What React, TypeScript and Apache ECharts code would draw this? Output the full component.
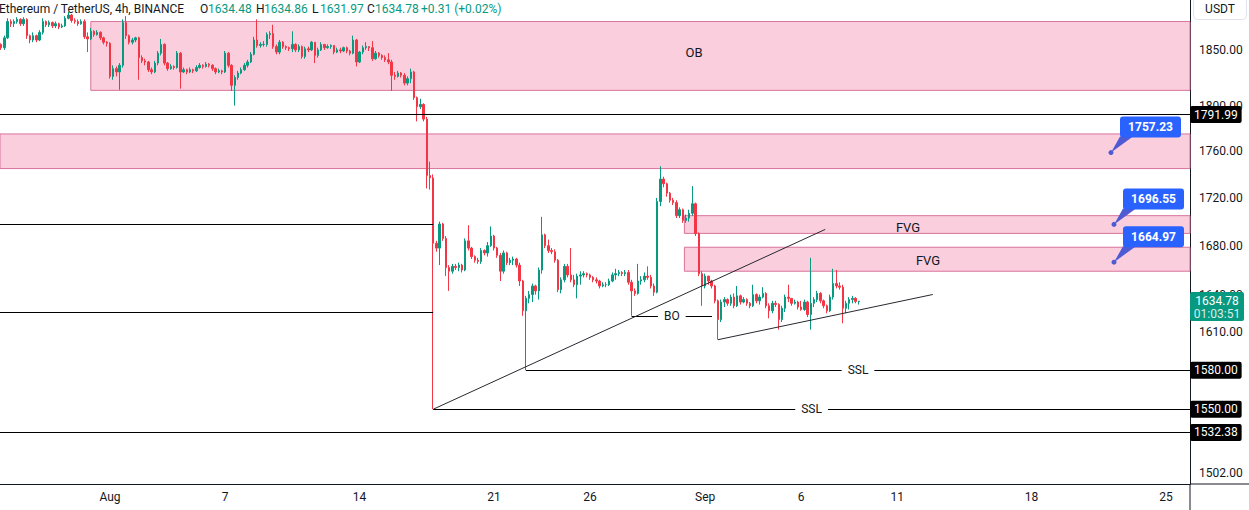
import React, { useEffect, useRef } from "react";
import * as echarts from "echarts";

const utc = (m: number, d: number, h = 0, mi = 0) => Date.UTC(2023, m - 1, d, h, mi);
const H4 = 4 * 3600 * 1000;

const symbolName = "Ethereum / TetherUS, 4h, BINANCE";
const lastBar = { open: 1634.48, high: 1634.86, low: 1631.97, close: 1634.78, change: 0.31, changePct: 0.02 };
const countdown = "01:03:51";
const quoteCurrency = "USDT";

const candleStart = utc(7, 26, 8);
const firstOpen = 1855;
// [close, high, low] per 4h candle, open = previous close
const candles4h: number[][] = [
  // Jul 26
  [1852, 1856, 1850], [1861, 1863, 1850], [1876, 1879, 1860], [1874, 1878, 1871],
  // Jul 27
  [1876, 1878, 1871], [1878, 1880, 1874], [1874, 1879, 1872], [1878, 1880, 1872], [1863, 1879, 1860], [1859, 1864, 1856],
  // Jul 28
  [1863, 1866, 1857], [1859, 1864, 1857], [1866, 1868, 1858], [1876, 1879, 1864], [1873, 1877, 1871], [1875, 1877, 1871],
  // Jul 29
  [1872, 1876, 1870], [1874, 1876, 1870], [1871, 1875, 1869], [1872, 1874, 1870], [1879, 1881, 1871], [1882, 1885, 1878],
  // Jul 30
  [1877, 1883, 1875], [1876, 1879, 1874], [1874, 1878, 1872], [1876, 1878, 1873], [1862, 1878, 1860], [1860, 1866, 1848],
  // Jul 31
  [1867, 1870, 1859], [1864, 1868, 1862], [1866, 1868, 1863], [1861, 1867, 1859], [1857, 1862, 1855], [1856, 1858, 1853],
  // Aug 1
  [1826, 1857, 1824], [1833, 1836, 1823], [1830, 1835, 1826], [1836, 1838, 1814], [1875, 1878, 1834], [1863, 1881, 1860],
  // Aug 2
  [1857, 1864, 1855], [1859, 1861, 1855], [1861, 1862, 1857], [1843, 1862, 1823], [1840, 1845, 1838], [1839, 1842, 1836],
  // Aug 3
  [1832, 1840, 1830], [1830, 1834, 1828], [1838, 1840, 1829], [1847, 1849, 1836], [1855, 1860, 1845], [1838, 1856, 1836],
  // Aug 4
  [1833, 1839, 1831], [1835, 1837, 1832], [1834, 1836, 1832], [1847, 1849, 1833], [1830, 1848, 1815], [1832, 1834, 1829],
  // Aug 5
  [1830, 1833, 1828], [1832, 1834, 1829], [1831, 1833, 1829], [1834, 1836, 1830], [1836, 1838, 1833], [1835, 1837, 1833],
  // Aug 6
  [1837, 1839, 1834], [1836, 1838, 1834], [1833, 1837, 1831], [1830, 1834, 1828], [1831, 1833, 1829], [1830, 1832, 1828],
  // Aug 7
  [1847, 1849, 1829], [1836, 1848, 1834], [1818, 1837, 1813], [1825, 1827, 1800], [1829, 1831, 1823], [1832, 1834, 1828],
  // Aug 8
  [1836, 1838, 1831], [1839, 1841, 1834], [1846, 1848, 1838], [1859, 1862, 1845], [1854, 1878, 1852], [1855, 1857, 1852],
  // Aug 9
  [1855, 1858, 1853], [1864, 1866, 1853], [1865, 1867, 1860], [1853, 1873, 1851], [1848, 1855, 1846], [1857, 1859, 1846],
  // Aug 10
  [1853, 1858, 1851], [1852, 1854, 1850], [1851, 1853, 1849], [1855, 1867, 1848], [1850, 1856, 1848], [1853, 1855, 1848],
  // Aug 11
  [1844, 1854, 1842], [1851, 1853, 1842], [1850, 1853, 1848], [1857, 1858, 1849], [1845, 1857, 1838], [1850, 1852, 1843],
  // Aug 12
  [1855, 1857, 1849], [1852, 1855, 1850], [1853, 1855, 1851], [1854, 1855, 1851], [1848, 1854, 1846], [1850, 1852, 1847],
  // Aug 13
  [1849, 1852, 1847], [1852, 1853, 1848], [1849, 1853, 1847], [1847, 1850, 1845], [1859, 1863, 1846], [1839, 1860, 1835],
  // Aug 14
  [1848, 1849, 1838], [1852, 1854, 1846], [1853, 1857, 1850], [1852, 1853, 1849], [1842, 1858, 1840], [1847, 1849, 1841],
  // Aug 15
  [1845, 1848, 1843], [1843, 1846, 1841], [1841, 1845, 1839], [1839, 1847, 1837], [1827, 1841, 1813], [1826, 1830, 1823],
  // Aug 16
  [1829, 1831, 1825], [1827, 1830, 1825], [1820, 1829, 1818], [1824, 1826, 1818], [1830, 1833, 1820], [1807, 1831, 1805],
  // Aug 17
  [1799, 1808, 1786], [1801, 1806, 1797], [1788, 1802, 1786], [1739, 1790, 1728], [1737, 1751, 1727], [1682, 1740, 1550],
  // Aug 18
  [1678, 1684, 1675], [1698, 1700, 1664], [1686, 1699, 1684], [1662, 1688, 1655], [1659, 1664, 1643], [1663, 1665, 1657],
  // Aug 19
  [1662, 1665, 1660], [1664, 1666, 1659], [1660, 1665, 1658], [1684, 1686, 1659], [1678, 1697, 1676], [1671, 1679, 1669],
  // Aug 20
  [1668, 1672, 1666], [1667, 1670, 1665], [1676, 1678, 1665], [1674, 1677, 1672], [1680, 1683, 1671], [1688, 1696, 1679],
  // Aug 21
  [1678, 1689, 1676], [1672, 1679, 1670], [1659, 1674, 1651], [1674, 1676, 1657], [1666, 1675, 1664], [1668, 1670, 1664],
  // Aug 22
  [1669, 1671, 1664], [1664, 1670, 1662], [1651, 1666, 1647], [1627, 1652, 1623], [1637, 1639, 1580], [1640, 1643, 1633],
  // Aug 23
  [1647, 1649, 1634], [1643, 1648, 1640], [1660, 1662, 1636], [1689, 1704, 1657], [1680, 1690, 1678], [1676, 1685, 1674],
  // Aug 24
  [1675, 1678, 1673], [1668, 1677, 1666], [1644, 1669, 1642], [1652, 1654, 1641], [1663, 1665, 1650], [1656, 1665, 1654],
  // Aug 25
  [1652, 1678, 1650], [1648, 1656, 1646], [1655, 1657, 1637], [1656, 1659, 1648], [1657, 1659, 1654], [1656, 1658, 1654],
  // Aug 26
  [1654, 1657, 1652], [1652, 1655, 1650], [1651, 1654, 1649], [1647, 1652, 1645], [1648, 1650, 1646], [1648, 1650, 1646],
  // Aug 27
  [1651, 1653, 1647], [1656, 1658, 1650], [1657, 1661, 1652], [1658, 1660, 1655], [1657, 1659, 1655], [1658, 1660, 1655],
  // Aug 28
  [1650, 1660, 1648], [1643, 1652, 1623], [1641, 1645, 1639], [1651, 1665, 1640], [1652, 1655, 1648], [1655, 1658, 1650],
  // Aug 29
  [1654, 1663, 1652], [1647, 1656, 1645], [1642, 1649, 1639], [1717, 1720, 1641], [1736, 1747, 1713], [1732, 1738, 1729],
  // Aug 30
  [1724, 1733, 1721], [1718, 1725, 1716], [1716, 1720, 1714], [1705, 1718, 1703], [1710, 1712, 1703], [1701, 1711, 1699],
  // Aug 31
  [1703, 1706, 1699], [1707, 1710, 1700], [1715, 1730, 1705], [1690, 1716, 1688], [1657, 1691, 1655], [1647, 1659, 1631],
  // Sep 1
  [1655, 1657, 1645], [1651, 1655, 1648], [1647, 1652, 1645], [1635, 1648, 1633], [1620, 1636, 1604], [1634, 1636, 1618],
  // Sep 2
  [1636, 1638, 1630], [1633, 1637, 1631], [1638, 1640, 1631], [1631, 1641, 1629], [1639, 1647, 1630], [1634, 1640, 1632],
  // Sep 3
  [1636, 1638, 1633], [1633, 1637, 1631], [1631, 1634, 1629], [1640, 1648, 1630], [1635, 1641, 1633], [1638, 1640, 1632],
  // Sep 4
  [1641, 1646, 1637], [1631, 1642, 1629], [1627, 1633, 1621], [1633, 1635, 1625], [1632, 1635, 1630], [1620, 1633, 1612],
  // Sep 5
  [1629, 1631, 1618], [1638, 1640, 1626], [1637, 1648, 1634], [1633, 1637, 1631], [1634, 1636, 1632], [1630, 1635, 1628],
  // Sep 6
  [1628, 1635, 1627], [1634, 1636, 1627], [1624, 1635, 1622], [1633, 1670, 1612], [1636, 1638, 1630], [1641, 1643, 1634],
  // Sep 7
  [1635, 1642, 1633], [1631, 1636, 1629], [1627, 1632, 1625], [1638, 1640, 1626], [1649, 1661, 1636], [1647, 1660, 1645],
  // Sep 8
  [1646, 1650, 1644], [1629, 1648, 1617], [1633, 1635, 1625], [1636, 1638, 1628], [1637, 1639, 1633], [1634.48, 1638, 1633],
  // Sep 9
  [1634.78, 1634.86, 1631.97],
];

const timeMin = utc(7, 26, 6, 30);
const timeMax = utc(9, 26, 6);
const priceMin = 1494;
const priceMax = 1896;
// scale labels left visible (1530, 1550 and 1580 sit fully under the price tags)
const priceTicks = [1502, 1610, 1640, 1680, 1720, 1760, 1800, 1850];
const dateTicks = [utc(8, 1), utc(8, 7), utc(8, 14), utc(8, 21), utc(8, 26), utc(9, 1), utc(9, 6), utc(9, 11), utc(9, 18), utc(9, 25)];
const monthNames = ["Jan", "Feb", "Mar", "Apr", "May", "Jun", "Jul", "Aug", "Sep", "Oct", "Nov", "Dec"];

const crashTime = utc(8, 17, 20);
const hLines = [
  { price: 1791.99, from: timeMin, to: timeMax, tag: true, mid: "" },
  { price: 1698, from: timeMin, to: crashTime, tag: false, mid: "" },
  { price: 1626, from: timeMin, to: crashTime, tag: false, mid: "" },
  { price: 1580, from: utc(8, 22, 16), to: timeMax, tag: true, mid: "SSL" },
  { price: 1550, from: crashTime, to: timeMax, tag: true, mid: "SSL" },
  { price: 1532.38, from: timeMin, to: timeMax, tag: true, mid: "" },
  { price: 1622.7, from: utc(8, 28, 4), to: utc(9, 1, 8, 30), tag: false, mid: "BO" },
];
const trendLines = [
  [[crashTime, 1550], [utc(9, 7, 6), 1693.5]],
  [[utc(9, 1, 16), 1604], [utc(9, 12, 20, 30), 1640.1]],
];
const zones = [
  { from: utc(7, 31), top: 1876, bottom: 1813.5, label: "OB", labelTime: utc(8, 31, 10), labelPrice: 1848 },
  { from: timeMin, top: 1775, bottom: 1745, label: "", labelTime: 0, labelPrice: 0 },
  { from: utc(8, 30, 22), top: 1705, bottom: 1690.2, label: "FVG", labelTime: utc(9, 11, 13, 30), labelPrice: 1695 },
  { from: utc(8, 30, 22), top: 1678.7, bottom: 1659, label: "FVG", labelTime: utc(9, 12, 14, 30), labelPrice: 1668 },
];
const priceNotes = [
  { time: utc(9, 22, 3, 15), price: 1758.8, text: "1757.23" },
  { time: utc(9, 22, 7), price: 1697.7, text: "1696.55" },
  { time: utc(9, 22, 7), price: 1666.4, text: "1664.97" },
];

const UP = "#089981";
const DOWN = "#f23645";
const INK = "#131722";
const FONT = "Roboto";

const ohlcData = candles4h.map((c, i) => {
  const open = i === 0 ? firstOpen : candles4h[i - 1][0];
  return [candleStart + i * H4, open, c[0], c[2], c[1]];
});

function buildOption(): any {
  const tagLabel = (p: number) => ({
    show: true,
    position: "end",
    distance: 0,
    formatter: p.toFixed(2),
    backgroundColor: "#000000",
    color: "#ffffff",
    padding: [2, 4, 2, 4],
    borderRadius: 2,
    fontSize: 12,
    fontFamily: FONT,
    lineHeight: 13,
  });
  const lineData: any[] = [];
  hLines.forEach((l) => {
    lineData.push([
      { coord: [l.from, l.price], label: l.tag ? tagLabel(l.price) : { show: false } },
      { coord: [l.to, l.price] },
    ]);
  });
  trendLines.forEach((t) => {
    lineData.push([{ coord: t[0], lineStyle: { color: "#26292f" } }, { coord: t[1] }]);
  });
  const pointData: any[] = [];
  zones.forEach((z) => {
    if (!z.label) return;
    pointData.push({
      coord: [z.labelTime, z.labelPrice],
      label: { formatter: z.label, fontSize: 13 },
    });
  });
  hLines.forEach((l) => {
    if (!l.mid) return;
    pointData.push({
      coord: [(l.from + l.to) / 2, l.price],
      label: { formatter: l.mid, fontSize: 12, backgroundColor: "#ffffff", padding: [1, 6, 1, 6] },
    });
  });

  return {
    animation: false,
    backgroundColor: "#ffffff",
    grid: { left: 0, right: 59, top: 0, bottom: 26 },
    xAxis: {
      type: "value",
      min: timeMin,
      max: timeMax,
      scale: true,
      splitLine: { show: false },
      axisLine: { show: true, lineStyle: { color: INK, width: 1 } },
      axisTick: { show: false },
      axisLabel: {
        customValues: dateTicks,
        formatter: (v: number) => {
          const d = new Date(v);
          return d.getUTCDate() === 1 ? monthNames[d.getUTCMonth()] : String(d.getUTCDate());
        },
        color: INK,
        fontSize: 12,
        fontFamily: FONT,
        margin: 7,
        hideOverlap: false,
      },
    },
    yAxis: {
      type: "log",
      logBase: 10,
      position: "right",
      min: priceMin,
      max: priceMax,
      splitLine: { show: false },
      axisLine: { show: true, lineStyle: { color: INK, width: 1 } },
      axisTick: { show: false },
      axisLabel: {
        customValues: priceTicks,
        formatter: (v: number) => Number(v).toFixed(2),
        color: INK,
        fontSize: 12,
        fontFamily: FONT,
        margin: 9,
        hideOverlap: false,
      },
    },
    series: [
      {
        type: "candlestick",
        data: ohlcData,
        barWidth: 2,
        clip: false,
        itemStyle: {
          color: UP,
          color0: DOWN,
          borderColor: UP,
          borderColor0: DOWN,
          borderColorDoji: UP,
          borderWidth: 1,
        },
        markArea: {
          silent: true,
          itemStyle: { color: "rgba(233, 30, 99, 0.22)", borderColor: "#d9739b", borderWidth: 1 },
          data: zones.map((z) => [{ coord: [z.from, z.top] }, { coord: [timeMax, z.bottom] }]),
        },
        markLine: {
          silent: true,
          symbol: ["none", "none"],
          lineStyle: { color: "#000000", width: 1, type: "solid" },
          label: { show: false },
          data: lineData,
        },
        markPoint: {
          silent: true,
          symbol: "rect",
          symbolSize: 1,
          itemStyle: { color: "rgba(0,0,0,0)" },
          label: { show: true, position: "inside", color: INK, fontFamily: FONT },
          data: pointData,
        },
      },
    ],
  };
}

export default function App() {
  const ref = useRef<HTMLDivElement>(null);
  useEffect(() => {
    const chart = echarts.init(ref.current!, null, { renderer: "svg" });
    chart.setOption(buildOption());
    const g: any[] = [];
    // header
    g.push({ type: "text", x: -1, y: 9, z: 100, style: { text: symbolName, fill: INK, fontSize: 12, fontFamily: FONT, verticalAlign: "middle" } });
    const fields = [
      { k: "O", v: lastBar.open.toFixed(2), x: 200 },
      { k: "H", v: lastBar.high.toFixed(2), x: 256 },
      { k: "L", v: lastBar.low.toFixed(2), x: 312 },
      { k: "C", v: lastBar.close.toFixed(2), x: 367 },
    ];
    fields.forEach((f) => {
      g.push({ type: "text", x: f.x, y: 9, z: 100, style: { text: f.k, fill: INK, fontSize: 12, fontFamily: FONT, verticalAlign: "middle" } });
      g.push({ type: "text", x: f.x + 8, y: 9, z: 100, style: { text: f.v, fill: UP, fontSize: 12, fontFamily: FONT, verticalAlign: "middle" } });
    });
    g.push({
      type: "text", x: 421, y: 9, z: 100,
      style: { text: `+${lastBar.change.toFixed(2)} (+${lastBar.changePct.toFixed(2)}%)`, fill: UP, fontSize: 12, fontFamily: FONT, verticalAlign: "middle" },
    });
    // currency box
    g.push({ type: "rect", z: 100, shape: { x: 1193.5, y: -5.5, width: 53, height: 25, r: 4 }, style: { fill: "#ffffff", stroke: "#e0e3eb", lineWidth: 1 } });
    g.push({ type: "text", x: 1220, y: 9, z: 101, style: { text: quoteCurrency, fill: INK, fontSize: 12, fontFamily: FONT, align: "center", verticalAlign: "middle" } });
    // axis extensions
    const corner = chart.convertToPixel({ gridIndex: 0 }, [timeMax, priceMin]) as number[];
    g.push({ type: "line", z: 100, shape: { x1: corner[0], y1: corner[1], x2: 1249, y2: corner[1] }, style: { stroke: INK, lineWidth: 1 } });
    g.push({ type: "line", z: 100, shape: { x1: corner[0], y1: corner[1], x2: corner[0], y2: 510 }, style: { stroke: INK, lineWidth: 1 } });
    // current price tag
    const cp = chart.convertToPixel({ gridIndex: 0 }, [timeMax, lastBar.close]) as number[];
    g.push({ type: "rect", z: 100, shape: { x: cp[0], y: cp[1] - 9, width: 54, height: 29, r: 2 }, style: { fill: UP } });
    g.push({ type: "text", x: cp[0] + 27, y: cp[1], z: 101, style: { text: lastBar.close.toFixed(2), fill: "#ffffff", fontSize: 12, fontFamily: FONT, align: "center", verticalAlign: "middle" } });
    g.push({ type: "text", x: cp[0] + 27, y: cp[1] + 13, z: 101, style: { text: countdown, fill: "#ffffff", fontSize: 12, fontFamily: FONT, align: "center", verticalAlign: "middle", opacity: 0.85 } });
    // price notes
    priceNotes.forEach((n) => {
      const p = chart.convertToPixel({ gridIndex: 0 }, [n.time, n.price]) as number[];
      const bx = p[0] + 9;
      const by = p[1] - 36;
      g.push({ type: "polygon", z: 100, shape: { points: [[p[0], p[1]], [p[0] + 9, p[1] - 16], [p[0] + 22, p[1] - 16]] }, style: { fill: "#4f5bd5" } });
      g.push({ type: "circle", z: 101, shape: { cx: p[0], cy: p[1], r: 2.5 }, style: { fill: "#4f5bd5" } });
      g.push({ type: "rect", z: 101, shape: { x: bx, y: by, width: 61, height: 21, r: 3 }, style: { fill: "#2962ff" } });
      g.push({ type: "text", x: bx + 30.5, y: by + 10.5, z: 102, style: { text: n.text, fill: "#ffffff", fontSize: 12, fontWeight: "bold", fontFamily: FONT, align: "center", verticalAlign: "middle" } });
    });
    chart.setOption({ graphic: g });
    return () => chart.dispose();
  }, []);
  return <div ref={ref} style={{ position: "fixed", left: 0, top: 0, width: 1249, height: 510 }} />;
}
